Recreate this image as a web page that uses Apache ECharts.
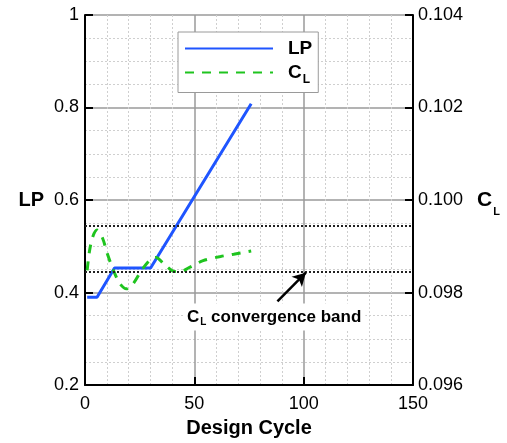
<!DOCTYPE html>
<html>
<head>
<meta charset="utf-8">
<script src="https://cdn.jsdelivr.net/npm/echarts@6/dist/echarts.min.js"></script>
<style>
  html, body { margin: 0; padding: 0; background: #ffffff; }
  #chart { width: 507px; height: 443px; }
</style>
</head>
<body>
<div id="chart"></div>
<script>
// Design-cycle history of LP and the lift coefficient C_L
const cycleTicks = [0, 50, 100, 150];
const lpTicks = [0.2, 0.4, 0.6, 0.8, 1.0];
const clTicks = [0.096, 0.098, 0.100, 0.102, 0.104];

const lpCycles = [1, 5.5, 13.5, 30, 76];
const lpValues = [0.390, 0.390, 0.453, 0.453, 0.808];

const clCycles = [1, 2, 3.5, 5.5, 8, 10, 13, 16, 19, 22, 26, 30, 32.5, 36, 40, 43.5, 48, 54, 62, 68, 76];
const clValues = [0.09848, 0.09888, 0.09920, 0.09935, 0.09918, 0.09887, 0.09848, 0.09819, 0.09808, 0.09819,
                  0.09849, 0.09872, 0.09876, 0.09862, 0.09847, 0.09845, 0.09855, 0.09869, 0.09878, 0.09883, 0.09890];

// C_L convergence band limits
const bandLimits = [0.09845, 0.09945];
// Annotation: text anchor and arrow (cycle, C_L)
const noteAnchor = [86.5, 0.09747];
const arrowTail = [88, 0.09781];
const arrowHead = [101, 0.09843];

const FONT = 'Liberation Sans';
const tickStep = a => a[1] - a[0];

const chart = echarts.init(document.getElementById('chart'), null, { renderer: 'canvas' });

const baseAxis = {
  axisLine: { show: true, onZero: false, lineStyle: { color: '#000', width: 2 } },
  axisTick: { show: true, inside: true, length: 8, lineStyle: { color: '#000', width: 2 } },
  minorTick: { show: false, splitNumber: 5 },
  axisLabel: { color: '#000', fontSize: 18, fontFamily: FONT },
  splitLine: { show: true, lineStyle: { color: '#9a9a9a', width: 1.5 } },
  minorSplitLine: { show: true, lineStyle: { color: '#cfcfcf', width: 1, type: [2, 2] } }
};

const option = {
  animation: false,
  backgroundColor: '#ffffff',
  grid: { left: 85, right: 94, top: 15, bottom: 54, containLabel: false },
  legend: {
    data: ['LP', 'CL'],
    orient: 'vertical',
    left: 178,
    top: 32,
    itemWidth: 88,
    itemHeight: 14,
    itemGap: 5,
    padding: [7, 6, 7, 6],
    backgroundColor: '#ffffff',
    borderColor: '#9a9a9a',
    borderWidth: 1,
    itemStyle: { opacity: 0 },
    formatter: name => name === 'CL' ? '{sp|}{b|C}{s|L}' : '{sp|}{b|LP}',
    textStyle: {
      fontFamily: FONT,
      rich: {
        sp: { width: 10 },
        b: { fontSize: 19, fontWeight: 'bold', color: '#000', fontFamily: FONT },
        s: { fontSize: 12, fontWeight: 'bold', color: '#000', fontFamily: FONT, padding: [14, 0, 0, 1] }
      }
    }
  },
  xAxis: Object.assign({}, baseAxis, {
    type: 'value',
    min: cycleTicks[0],
    max: cycleTicks[cycleTicks.length - 1],
    interval: tickStep(cycleTicks),
    minorTick: { show: false, splitNumber: 5 },
    axisLabel: Object.assign({}, baseAxis.axisLabel, { margin: 10 }),
    name: 'Design Cycle',
    nameLocation: 'middle',
    nameGap: 27,
    nameTextStyle: { color: '#000', fontSize: 20, fontWeight: 'bold', fontFamily: FONT }
  }),
  yAxis: [
    Object.assign({}, baseAxis, {
      type: 'value',
      position: 'left',
      min: lpTicks[0],
      max: lpTicks[lpTicks.length - 1],
      interval: 0.2,
      minorTick: { show: false, splitNumber: 4 },
      axisLabel: Object.assign({}, baseAxis.axisLabel, {
        margin: 6,
        formatter: v => String(Math.round(v * 10) / 10)
      }),
      name: 'LP',
      nameLocation: 'middle',
      nameRotate: 0,
      nameGap: 41,
      nameTextStyle: { color: '#000', fontSize: 20, fontWeight: 'bold', fontFamily: FONT, padding: [0, 0, 4, 0] }
    }),
    Object.assign({}, baseAxis, {
      type: 'value',
      position: 'right',
      min: clTicks[0],
      max: clTicks[clTicks.length - 1],
      interval: 0.002,
      splitLine: { show: false },
      minorSplitLine: { show: false },
      axisLabel: Object.assign({}, baseAxis.axisLabel, {
        margin: 5,
        formatter: v => v.toFixed(3)
      }),
      name: '{c|C}{s|L}',
      nameLocation: 'middle',
      nameRotate: 0,
      nameGap: 64,
      nameTextStyle: {
        rich: {
          c: { fontSize: 21, fontWeight: 'bold', color: '#000', fontFamily: FONT },
          s: { fontSize: 11, fontWeight: 'bold', color: '#000', fontFamily: FONT, padding: [24, 0, 0, 1] }
        }
      }
    })
  ],
  series: [
    {
      name: 'LP',
      type: 'line',
      yAxisIndex: 0,
      symbol: 'none',
      color: '#1f55ff',
      lineStyle: { color: '#1f55ff', width: 3 },
      data: lpCycles.map((c, i) => [c, lpValues[i]]),
      z: 3
    },
    {
      name: 'CL',
      type: 'line',
      yAxisIndex: 1,
      symbol: 'none',
      smooth: 0.3,
      color: '#1fc41f',
      lineStyle: { color: '#1fc41f', width: 3, type: [9, 8] },
      data: clCycles.map((c, i) => [c, clValues[i]]),
      z: 3,
      markLine: {
        silent: true,
        symbol: 'none',
        precision: 6,
        label: { show: false },
        lineStyle: { color: '#222', width: 2, type: [2, 2] },
        data: [
          { yAxis: bandLimits[0] },
          { yAxis: bandLimits[1] },
          [
            { coord: arrowTail, symbol: 'none', lineStyle: { color: '#000', width: 2.5, type: 'solid' } },
            { coord: arrowHead, symbol: 'arrow', symbolSize: [11, 13] }
          ]
        ]
      },
      markPoint: {
        silent: true,
        symbol: 'rect',
        symbolSize: 0,
        data: [{ coord: noteAnchor }],
        label: {
          show: true,
          position: 'inside',
          formatter: '{c|C}{s|L}{t| convergence band}',
          backgroundColor: '#ffffff',
          padding: [3, 4, 3, 4],
          rich: {
            c: { fontSize: 17, fontWeight: 'bold', color: '#000', fontFamily: FONT },
            s: { fontSize: 10, fontWeight: 'bold', color: '#000', fontFamily: FONT, padding: [11, 0, 0, 1] },
            t: { fontSize: 17, fontWeight: 'bold', color: '#000', fontFamily: FONT }
          }
        }
      }
    }
  ]
};

chart.setOption(option);
</script>
</body>
</html>
